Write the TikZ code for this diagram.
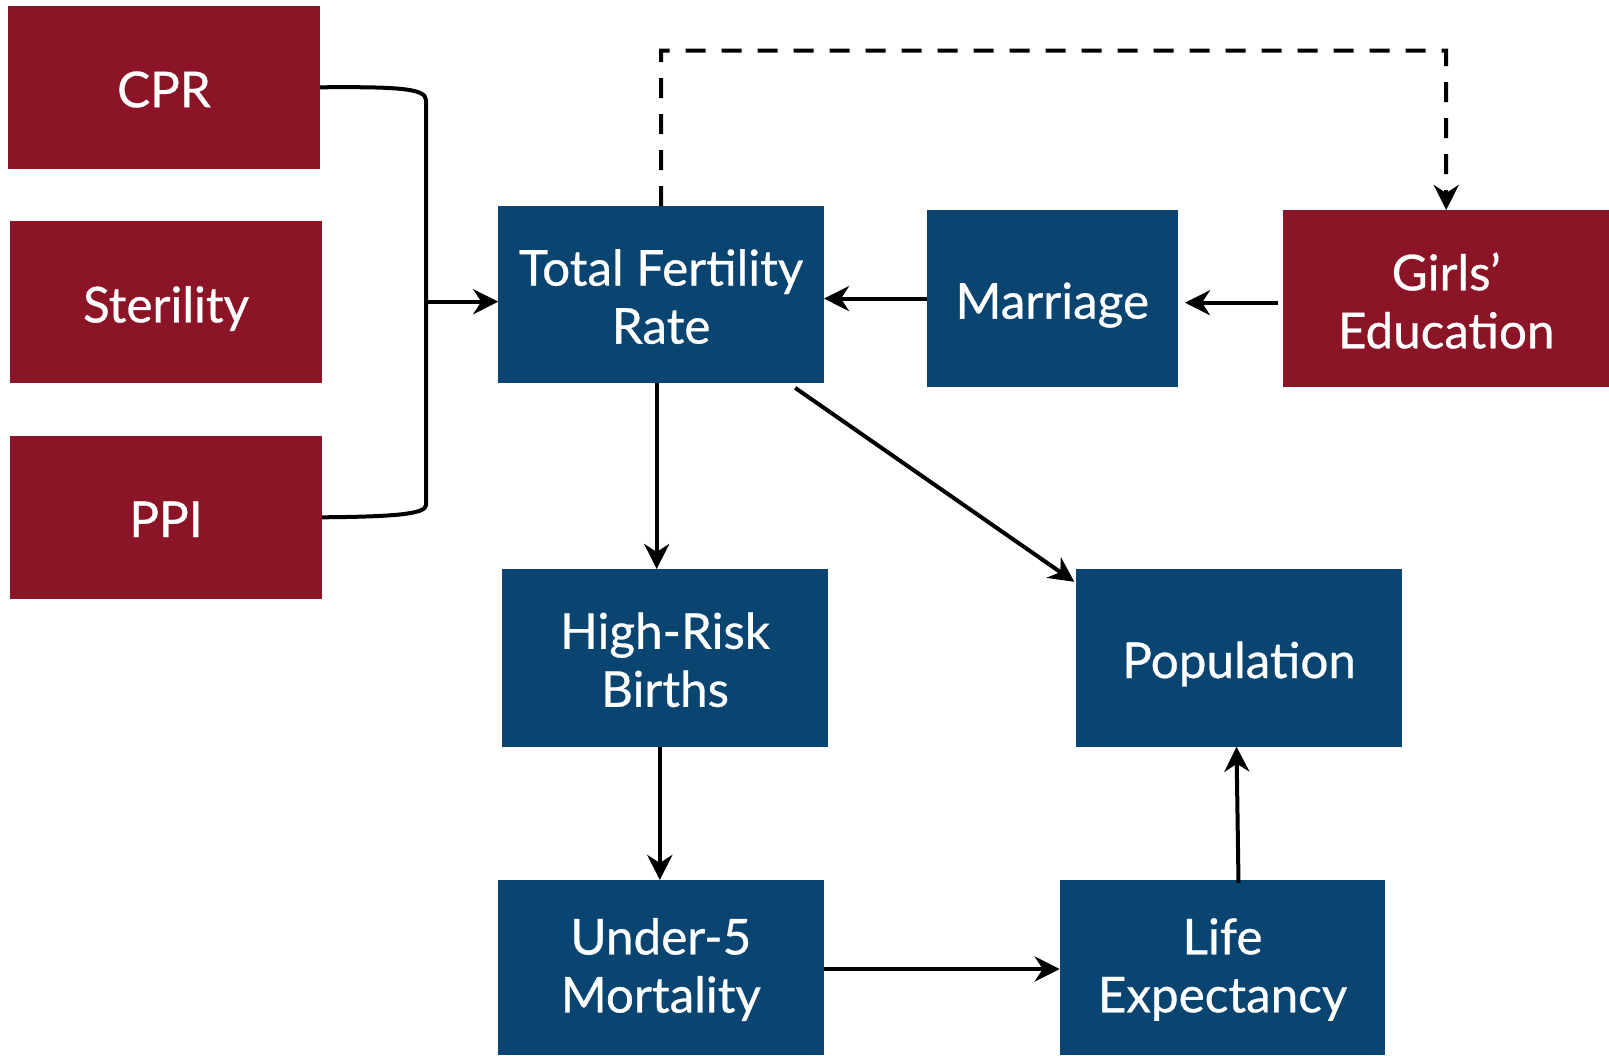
\documentclass[tikz,border=0pt]{standalone}
\usepackage{fontspec}
\setmainfont{Lato}
\newfontfamily\boxfont{Lato}[BoldFont={Lato},BoldFeatures={FakeBold=0.6}]
\usetikzlibrary{arrows.meta}
\definecolor{boxred}{HTML}{8B1526}
\definecolor{boxblue}{HTML}{0A4571}
\begin{document}
\begin{tikzpicture}[x=0.5pt,y=-0.5pt,
  box/.style={rectangle,draw=none,outer sep=0pt,inner sep=0pt},
  redbox/.style={box,fill=boxred},
  bluebox/.style={box,fill=boxblue},
  txt/.style={text=white,align=center,inner sep=0pt,yshift=-1pt,
    font=\boxfont\bfseries\fontsize{24.7}{29}\selectfont},
  txtone/.style={txt,text depth=0pt},
  conn/.style={line width=2pt,black},
  arr/.style={conn,-{Stealth[length=12.5pt,width=12.5pt,inset=4pt]}},
]
\useasboundingbox (0,0) rectangle (1609,1055);
% left red boxes
\node[redbox,minimum width=156pt,minimum height=81.3pt,label={[txtone]center:CPR}] (cpr) at (164,87.3) {};
\node[redbox,minimum width=156pt,minimum height=81.2pt,label={[txtone]center:Sterility}] (ster) at (166,302.2) {};
\node[redbox,minimum width=156pt,minimum height=81.2pt,label={[txtone]center:PPI}] (ppi) at (166,517.3) {};
% top row
\node[bluebox,minimum width=162.9pt,minimum height=88.6pt,label={[txt]center:{Total Fertility\\Rate}}] (tfr) at (661.1,294.6) {};
\node[bluebox,minimum width=125.7pt,minimum height=88.6pt,label={[txtone]center:Marriage}] (mar) at (1052.3,298.6) {};
\node[redbox,minimum width=162.9pt,minimum height=88.6pt,label={[txt]center:{Girls’\\Education}}] (girls) at (1446.2,298.6) {};
% middle row
\node[bluebox,minimum width=162.7pt,minimum height=88.8pt,label={[txt]center:{High-Risk\\Births}}] (hrb) at (665,657.8) {};
\node[bluebox,minimum width=163.1pt,minimum height=88.8pt,label={[txtone]center:Population}] (pop) at (1239.1,657.8) {};
% bottom row
\node[bluebox,minimum width=162.8pt,minimum height=87.5pt,label={[txt]center:{Under-5\\Mortality}}] (u5) at (660.8,967.5) {};
\node[bluebox,minimum width=162.8pt,minimum height=87.5pt,label={[txt]center:{Life\\Expectancy}}] (le) at (1222.5,967.5) {};
% bracket
\coordinate (bj) at (426,301.7);
\draw[conn] (cpr.east) .. controls (395,86.7) and (426,88) .. (426,100) -- (426,505)
  .. controls (426,514) and (395,516.7) .. (ppi.east);
\draw[arr] (bj) -- (bj -| tfr.west);
% dashed feedback
\coordinate (dl) at (661,50.7);
\coordinate (dr) at (1446.2,50.7);
\draw[arr,dash pattern=on 10pt off 8pt] (tfr.north) -- (dl) -- (dr) -- (girls.north);
% horizontal arrows
\coordinate (ms) at (926.6,298.6);
\draw[arr] (ms) -- (ms -| tfr.east);
\coordinate (gs) at (1277.5,302.7);
\coordinate (ge) at (1185,302.7);
\draw[arr] (gs) -- (ge);
% vertical arrows
\coordinate (t1) at (656.7,383.3);
\draw[arr] (t1) -- (t1 |- hrb.north);
\coordinate (h1) at (659.8,746.7);
\draw[arr] (h1) -- (h1 |- u5.north);
% diagonal
\coordinate (d1) at (795.2,387.9);
\coordinate (d2) at (1074.3,581.8);
\draw[arr] (d1) -- (d2);
% u5 -> le
\coordinate (u1) at (824,969);
\draw[arr] (u1) -- (u1 -| le.west);
% le -> pop
\coordinate (l1) at (1238.5,883);
\coordinate (l2) at (1236.5,746.7);
\draw[arr] (l1) -- (l2);
\end{tikzpicture}
\end{document}
